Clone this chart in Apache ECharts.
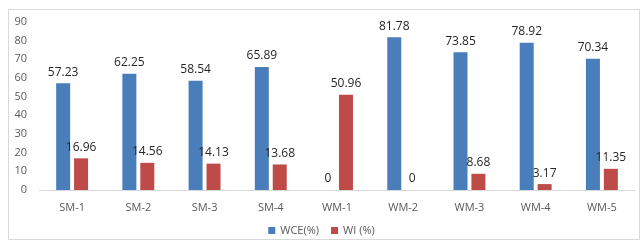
<!DOCTYPE html>
<html><head><meta charset="utf-8">
<script src="https://cdn.jsdelivr.net/npm/echarts@6/dist/echarts.min.js"></script>
<style>html,body{margin:0;padding:0;background:#fff}#c{width:643px;height:244px}</style>
</head><body><div id="c"></div>
<script>
const categories = ['SM-1','SM-2','SM-3','SM-4','WM-1','WM-2','WM-3','WM-4','WM-5'];
const wce = [57.23, 62.25, 58.54, 65.89, 0, 81.78, 73.85, 78.92, 70.34];
const wi = [16.96, 14.56, 14.13, 13.68, 50.96, 0, 8.68, 3.17, 11.35];
const seriesNames = ['WCE(%)', 'WI (%)'];

const chart = echarts.init(document.getElementById('c'), null, {renderer:'canvas'});
const font = 'Open Sans, sans-serif';
const lbl = {show:true, position:'top', color:'#262626', fontSize:12, fontFamily:font, distance:5};
chart.setOption({
  animation:false,
  graphic:[{type:'rect', shape:{x:8.5,y:9.5,width:631,height:230}, style:{fill:'none', stroke:'#d9d9d9', lineWidth:1}}],
  grid:{left:39, right:8, top:22, bottom:54},
  legend:{bottom:3, left:'center', itemWidth:7, itemHeight:7, itemGap:12, icon:'rect',
    textStyle:{color:'#595959', fontSize:11, fontFamily:font}, data:seriesNames},
  xAxis:{type:'category', data:categories,
    axisLine:{lineStyle:{color:'#d9d9d9', width:1}}, axisTick:{show:false},
    axisLabel:{color:'#595959', fontSize:11, fontFamily:font, margin:12}},
  yAxis:{type:'value', min:0, max:90, interval:10,
    axisLine:{show:false}, axisTick:{show:false}, splitLine:{show:false},
    axisLabel:{color:'#595959', fontSize:11, fontFamily:font, margin:12}},
  series:[
    {name:seriesNames[0], type:'bar', data:wce, barWidth:14, barGap:'28%', itemStyle:{color:'#4a7ebb'}, label:lbl},
    {name:seriesNames[1], type:'bar', data:wi, barWidth:14, itemStyle:{color:'#be4b48'}, label:lbl}
  ]
});
</script></body></html>
